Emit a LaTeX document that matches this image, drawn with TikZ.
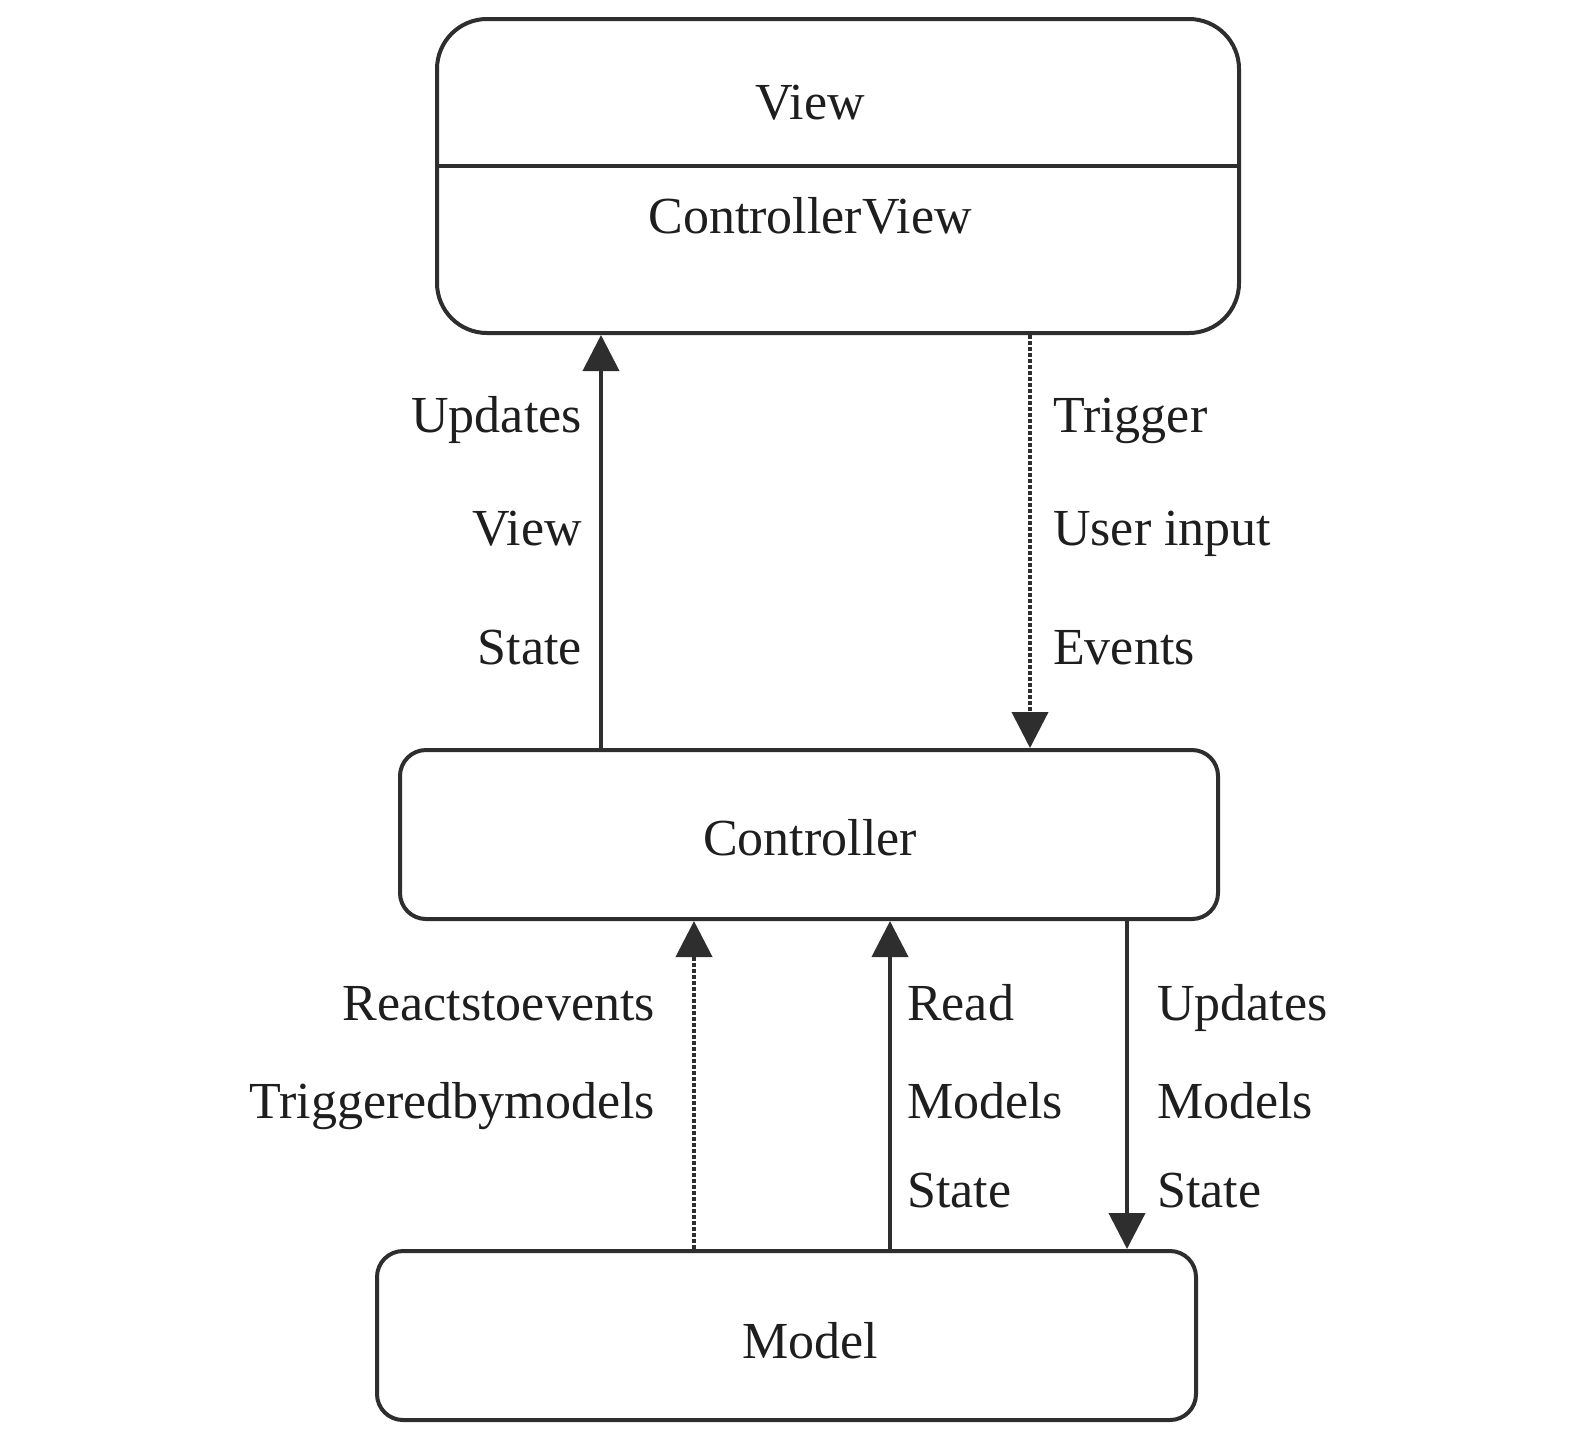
\documentclass[tikz,border=0pt]{standalone}
\usepackage{fontspec}
\setmainfont{Liberation Serif}
\usetikzlibrary{arrows.meta}
\definecolor{ln}{HTML}{2E2E2E}
\definecolor{tx}{HTML}{1E1E1E}
\begin{document}
\begin{tikzpicture}[x=1pt,y=-1pt,
  box/.style={draw=ln,line width=4pt,fill=white,inner sep=0pt,text=tx},
  lbl/.style={inner sep=0pt,text=tx,font=\fontsize{52}{60}\selectfont},
  arr/.style={draw=ln,line width=4pt,-{Triangle[length=36pt,width=36pt]}},
  dotl/.style={dash pattern=on 4pt off 2pt}]
\useasboundingbox (0,0) rectangle (1578,1444);
\fill[white] (0,0) rectangle (1578,1444);
% boxes
\node[box,rounded corners=50pt,minimum width=802pt,minimum height=314pt] (view) at (838,176) {};
\node[box,rounded corners=26pt,minimum width=818pt,minimum height=169pt] (ctrl) at (809,834.5) {};
\node[box,rounded corners=26pt,minimum width=819pt,minimum height=169pt] (model) at (786.5,1335.5) {};
\draw[ln,line width=4pt] (view.west |- 0,166) coordinate (dl) -- (view.east |- dl) coordinate (dr);
% box texts
\node[lbl,anchor=base] (tview) at (810,119) {View};
\node[lbl,anchor=base] (tcv) at (810,233) {ControllerView};
\node[lbl,anchor=base] (tctrl) at (810,855) {Controller};
\node[lbl,anchor=base] (tmodel) at (810,1358) {Model};
% arrow x positions
\coordinate (xa) at (601,0);
\coordinate (xb) at (1030,0);
\coordinate (xc) at (694,0);
\coordinate (xd) at (890,0);
\coordinate (xe) at (1127,0);
% arrows
\draw[arr] (xa |- ctrl.north) -- (xa |- view.south);
\draw[arr,dotl] (xb |- view.south) -- (xb |- ctrl.north);
\draw[arr,dotl] (xc |- model.north) -- (xc |- ctrl.south);
\draw[arr] (xd |- model.north) -- (xd |- ctrl.south);
\draw[arr] (xe |- ctrl.south) -- (xe |- model.north);
% labels
\node[lbl,anchor=base east] (l1) at (582,432) {Updates};
\node[lbl,anchor=base east] (l2) at (582,545) {View};
\node[lbl,anchor=base east] (l3) at (582,664) {State};
\node[lbl,anchor=base west] (r1) at (1053,432) {Trigger};
\node[lbl,anchor=base west] (r2) at (1053,545) {User input};
\node[lbl,anchor=base west] (r3) at (1053,664) {Events};
\node[lbl,anchor=base east] (b1) at (655,1020) {Reactstoevents};
\node[lbl,anchor=base east] (b2) at (655,1118) {Triggeredbymodels};
\node[lbl,anchor=base west] (c1) at (907,1020) {Read};
\node[lbl,anchor=base west] (c2) at (907,1118) {Models};
\node[lbl,anchor=base west] (c3) at (907,1207) {State};
\node[lbl,anchor=base west] (d1) at (1157,1020) {Updates};
\node[lbl,anchor=base west] (d2) at (1157,1118) {Models};
\node[lbl,anchor=base west] (d3) at (1157,1207) {State};
\end{tikzpicture}
\end{document}
